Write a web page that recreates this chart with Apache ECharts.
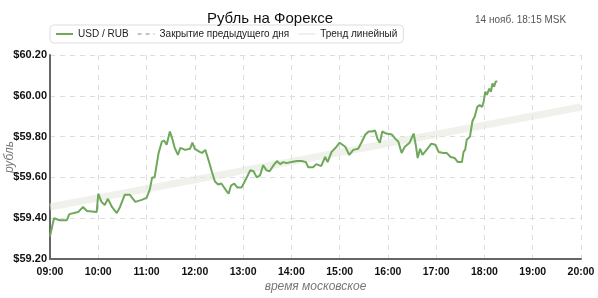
<!DOCTYPE html>
<html><head><meta charset="utf-8">
<script src="https://cdn.jsdelivr.net/npm/echarts@6/dist/echarts.min.js"></script>
<style>html,body{margin:0;padding:0;background:#fff}#c{width:598px;height:298px}</style>
</head><body><div id="c"></div>
<script>
const title = "Рубль на Форексе";
const stamp = "14 нояб. 18:15 MSK";
const seriesNames = ["USD / RUB", "Закрытие предыдущего дня", "Тренд линейный"];
const xTicks = ["09:00","10:00","11:00","12:00","13:00","14:00","15:00","16:00","17:00","18:00","19:00","20:00"];
const yTicks = [59.20, 59.40, 59.60, 59.80, 60.00, 60.20];

const usdTimes = ["09:00","09:01","09:05","09:12","09:21","09:24","09:35","09:41","09:46","09:58",
"10:00","10:04","10:08","10:12","10:17","10:23","10:27","10:33","10:39","10:46","10:54",
"11:00","11:04","11:07","11:10","11:15","11:19","11:22","11:25","11:29","11:32","11:35","11:39","11:42","11:48","11:54","11:57",
"12:00","12:06","12:09","12:13","12:17","12:21","12:25","12:29","12:33","12:40","12:42","12:45","12:49","12:53","12:58",
"13:02","13:09","13:13","13:17","13:21","13:25","13:29","13:33","13:38","13:42","13:46","13:50","13:54",
"14:00","14:07","14:13","14:18","14:21","14:27","14:31","14:37","14:42","14:45","14:50","14:55",
"15:00","15:07","15:12","15:17","15:23","15:27","15:32","15:36","15:40","15:44","15:47","15:50","15:53","15:58",
"16:05","16:09","16:13","16:17","16:21","16:27","16:32","16:35","16:37","16:40","16:43","16:48","16:54","16:59",
"17:03","17:09","17:13","17:18","17:23","17:27","17:32","17:34","17:36","17:38","17:42","17:45","17:48","17:51","17:54","17:57","17:59",
"18:01","18:03","18:06","18:08","18:10","18:12","18:14","18:16"];
const usdValues = [59.31,59.33,59.40,59.39,59.39,59.42,59.43,59.455,59.435,59.43,
59.52,59.48,59.465,59.495,59.455,59.425,59.455,59.515,59.515,59.48,59.49,
59.50,59.54,59.60,59.60,59.72,59.775,59.78,59.76,59.825,59.79,59.745,59.71,59.745,59.735,59.74,59.77,
59.74,59.725,59.72,59.735,59.685,59.63,59.58,59.565,59.57,59.53,59.52,59.56,59.57,59.55,59.55,
59.58,59.635,59.63,59.60,59.61,59.66,59.635,59.63,59.66,59.68,59.665,59.675,59.67,
59.675,59.68,59.68,59.675,59.65,59.65,59.665,59.655,59.70,59.675,59.725,59.745,
59.77,59.75,59.71,59.735,59.74,59.77,59.81,59.825,59.825,59.83,59.79,59.77,59.825,59.815,
59.81,59.79,59.775,59.72,59.75,59.77,59.815,59.75,59.695,59.74,59.71,59.735,59.765,59.76,
59.725,59.72,59.72,59.70,59.695,59.675,59.675,59.725,59.735,59.785,59.80,59.875,59.90,59.945,59.955,59.945,59.97,
60.02,60.005,60.035,60.02,60.06,60.045,60.07,60.07];

const trendTimes = ["09:00","20:00"];
const trendValues = [59.455, 59.945];

const prevCloseTimes = [];
const prevCloseValues = [];

function toHours(t){ const p = t.split(":"); return Number(p[0]) + Number(p[1])/60; }
function pairs(ts, vs){ return ts.map((t,i)=>[toHours(t), vs[i]]); }

const chart = echarts.init(document.getElementById('c'), null, {renderer:'canvas'});
const font = 'Liberation Sans, Arial, Helvetica, sans-serif';
chart.setOption({
  animation:false,
  textStyle:{fontFamily:font},
  title:[
    {text:title, left:265, top:6, textAlign:'center', textStyle:{fontFamily:font, fontSize:15, fontWeight:'normal', color:'#111'}},
    {text:stamp, left:470, top:10, textStyle:{fontFamily:font, fontSize:10, fontWeight:'normal', color:'#555'}}
  ],
  legend:{
    left:50, top:25, padding:[4,6,4,5], itemGap:8, itemWidth:17, itemHeight:10,
    borderColor:'#ddd', borderWidth:1, borderRadius:4, backgroundColor:'#fff',
    itemStyle:{opacity:0},
    textStyle:{fontFamily:font, fontSize:10, color:'#222'},
    data:[
      {name:seriesNames[0]},
      {name:seriesNames[1]},
      {name:seriesNames[2]}
    ]
  },
  grid:{left:50, right:17, top:55, bottom:39, outerBoundsMode:'none', containLabel:false},
  xAxis:{
    type:'value', min:9, max:20, interval:1,
    name:'время московское', nameLocation:'middle', nameGap:22, nameMoveOverlap:false,
    nameTextStyle:{fontFamily:font, fontSize:12, fontStyle:'italic', color:'#777'},
    axisLine:{lineStyle:{color:'#666', width:2}},
    axisTick:{show:false},
    axisLabel:{fontFamily:font, fontSize:10.5, fontWeight:'bold', color:'#111', margin:8,
      formatter:(v)=>xTicks[Math.round(v-9)]},
    splitLine:{show:true, lineStyle:{color:'#ddd', type:[5,5], width:1}}
  },
  yAxis:{
    type:'value', min:yTicks[0], max:yTicks[yTicks.length-1], interval:0.2,
    name:'рубль', nameLocation:'middle', nameGap:34, nameRotate:90, nameMoveOverlap:false,
    nameTextStyle:{fontFamily:font, fontSize:12, fontStyle:'italic', color:'#777'},
    axisLine:{show:true, lineStyle:{color:'#666', width:2}},
    axisTick:{show:false},
    axisLabel:{fontFamily:font, fontSize:11, fontWeight:'bold', color:'#111', margin:3,
      formatter:(v)=>'$'+v.toFixed(2)},
    splitLine:{show:true, lineStyle:{color:'#ddd', type:[5,5], width:1}}
  },
  series:[
    {name:seriesNames[0], type:'line', data:pairs(usdTimes, usdValues), showSymbol:false, symbol:'none',
      lineStyle:{color:'#6ea85a', width:2}, itemStyle:{color:'#6ea85a'}, z:5},
    {name:seriesNames[1], type:'line', data:pairs(prevCloseTimes, prevCloseValues), showSymbol:false, symbol:'none',
      lineStyle:{color:'#c4c4c4', width:1.5, type:[4,4]}, itemStyle:{color:'#c4c4c4'}},
    {name:seriesNames[2], type:'line', data:pairs(trendTimes, trendValues), showSymbol:false, symbol:'none',
      lineStyle:{color:'rgba(228,232,220,0.6)', width:7}, itemStyle:{color:'#e8ebe2'}, z:2}
  ]
});
</script></body></html>
